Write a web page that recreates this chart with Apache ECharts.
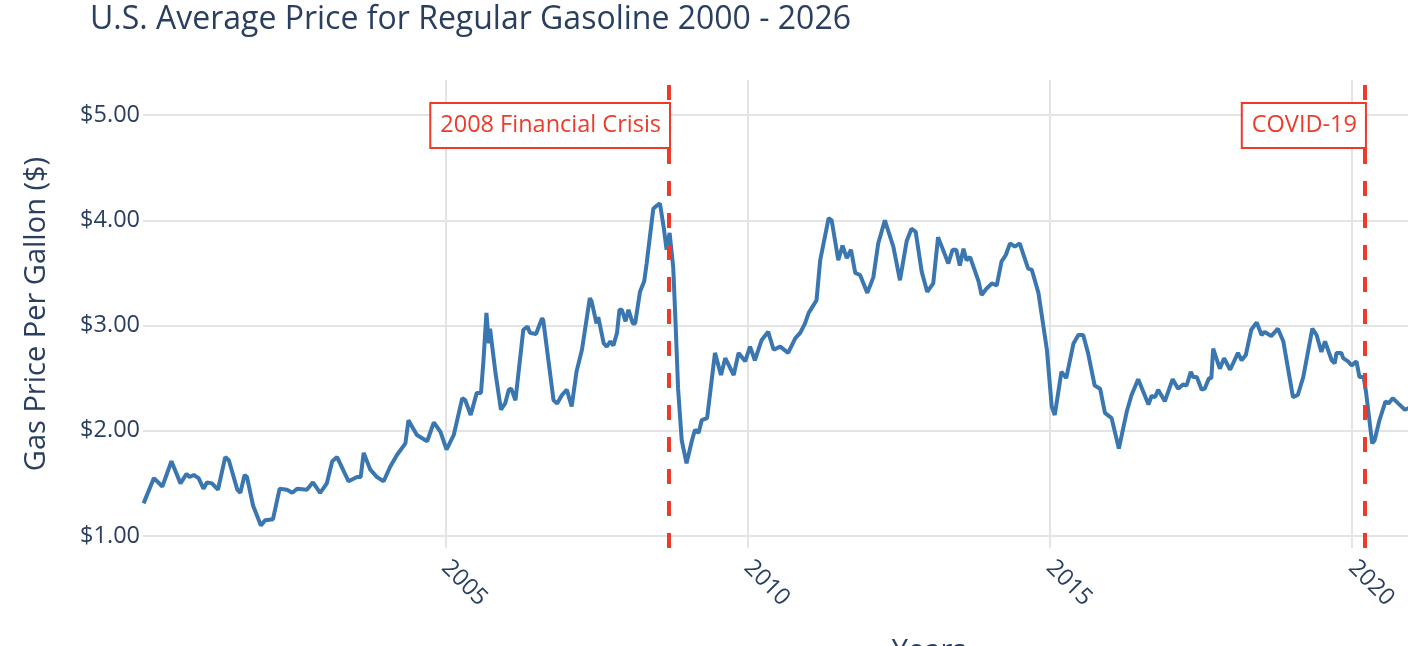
<!DOCTYPE html>
<html>
<head>
<meta charset="utf-8">
<script src="https://cdn.jsdelivr.net/npm/echarts@6/dist/echarts.min.js"></script>
<style>
html,body{margin:0;padding:0;background:#fff;overflow:hidden;}
#chart{width:1408px;height:646px;}
</style>
</head>
<body>
<div id="chart"></div>
<script>
// Decimal-year positions and prices
const years = [
2000.01,2000.18,2000.32,2000.47,2000.62,2000.72,2000.77,2000.84,2000.92,2001.00,
2001.06,2001.14,2001.24,2001.36,2001.42,2001.56,2001.61,2001.68,2001.72,2001.82,
2001.95,2002.02,2002.15,2002.26,2002.38,2002.47,2002.55,2002.71,2002.81,2002.93,
2003.04,2003.13,2003.21,2003.40,2003.54,2003.60,2003.65,2003.76,2003.87,2003.98,
2004.09,2004.20,2004.34,2004.39,2004.53,2004.70,2004.81,2004.92,2005.02,2005.14,
2005.28,2005.33,2005.42,2005.52,2005.59,2005.63,2005.68,2005.72,2005.74,2005.83,
2005.92,2005.99,2006.05,2006.09,2006.16,2006.29,2006.36,2006.40,2006.50,2006.60,
2006.62,2006.79,2006.85,2006.93,2007.01,2007.09,2007.17,2007.26,2007.39,2007.42,
2007.50,2007.53,2007.62,2007.67,2007.73,2007.78,2007.84,2007.88,2007.92,2007.98,
2008.03,2008.10,2008.14,2008.22,2008.25,2008.29,2008.33,2008.44,2008.50,2008.55,
2008.61,2008.66,2008.71,2008.77,2008.81,2008.85,2008.91,2008.99,2009.08,2009.13,
2009.19,2009.24,2009.33,2009.46,2009.56,2009.63,2009.77,2009.85,2009.96,2010.04,
2010.12,2010.23,2010.34,2010.43,2010.54,2010.67,2010.79,2010.87,2010.95,2011.01,
2011.14,2011.20,2011.34,2011.39,2011.50,2011.57,2011.64,2011.71,2011.78,2011.86,
2011.98,2012.08,2012.16,2012.27,2012.41,2012.52,2012.63,2012.71,2012.78,2012.88,
2012.97,2013.07,2013.15,2013.32,2013.39,2013.45,2013.51,2013.57,2013.62,2013.68,
2013.82,2013.87,2013.95,2014.04,2014.12,2014.20,2014.27,2014.34,2014.42,2014.50,
2014.64,2014.70,2014.81,2014.95,2015.03,2015.08,2015.19,2015.27,2015.39,2015.47,
2015.55,2015.63,2015.74,2015.83,2015.91,2016.02,2016.14,2016.27,2016.35,2016.46,
2016.63,2016.68,2016.74,2016.79,2016.90,2017.03,2017.12,2017.20,2017.26,2017.33,
2017.37,2017.43,2017.51,2017.56,2017.63,2017.67,2017.70,2017.81,2017.88,2017.98,
2018.11,2018.17,2018.24,2018.33,2018.42,2018.50,2018.55,2018.66,2018.77,2018.86,
2019.02,2019.10,2019.19,2019.34,2019.41,2019.49,2019.55,2019.66,2019.71,2019.74,
2019.82,2019.85,2019.93,2019.99,2020.07,2020.12,2020.19,2020.23,2020.33,2020.37,
2020.45,2020.55,2020.60,2020.67,2020.76,2020.87,2020.95
];
const prices = [
1.31,1.55,1.47,1.71,1.50,1.59,1.56,1.58,1.55,1.45,
1.51,1.50,1.44,1.75,1.72,1.44,1.41,1.58,1.56,1.29,
1.10,1.15,1.16,1.45,1.44,1.41,1.45,1.44,1.51,1.41,
1.50,1.71,1.75,1.52,1.56,1.56,1.79,1.63,1.56,1.52,
1.66,1.77,1.88,2.10,1.96,1.90,2.08,1.99,1.82,1.96,
2.31,2.29,2.15,2.36,2.36,2.66,3.12,2.83,2.97,2.55,
2.20,2.26,2.39,2.40,2.29,2.96,2.99,2.93,2.92,3.07,
3.05,2.29,2.26,2.34,2.39,2.23,2.56,2.77,3.26,3.23,
3.02,3.08,2.83,2.80,2.85,2.81,2.93,3.15,3.15,3.04,
3.15,3.02,3.02,3.32,3.32,3.42,3.59,4.11,4.14,4.16,
3.94,3.72,3.88,3.55,3.00,2.40,1.91,1.69,1.91,2.01,
1.98,2.10,2.12,2.74,2.53,2.69,2.53,2.74,2.66,2.80,
2.67,2.86,2.94,2.77,2.80,2.74,2.88,2.93,3.02,3.12,
3.24,3.62,4.02,4.00,3.62,3.76,3.64,3.72,3.50,3.48,
3.31,3.46,3.78,4.00,3.75,3.43,3.80,3.92,3.89,3.51,
3.32,3.40,3.84,3.59,3.72,3.72,3.57,3.73,3.62,3.65,
3.42,3.29,3.35,3.40,3.38,3.61,3.67,3.78,3.75,3.78,
3.54,3.53,3.31,2.77,2.23,2.15,2.56,2.50,2.83,2.91,
2.91,2.74,2.43,2.40,2.17,2.12,1.83,2.18,2.34,2.49,
2.25,2.33,2.32,2.39,2.28,2.49,2.40,2.44,2.43,2.56,
2.51,2.51,2.39,2.40,2.50,2.50,2.78,2.59,2.69,2.58,
2.74,2.67,2.72,2.96,3.03,2.91,2.94,2.90,2.97,2.85,
2.32,2.34,2.51,2.97,2.91,2.75,2.85,2.67,2.64,2.74,
2.74,2.69,2.66,2.62,2.66,2.51,2.51,2.36,1.88,1.91,
2.10,2.28,2.26,2.31,2.26,2.20,2.22
];
const yTicks = [1, 2, 3, 4, 5];
const xTicks = [2005, 2010, 2015, 2020, 2025];
const eventNames = ['2008 Financial Crisis', 'COVID-19'];
const eventYears = [2008.70, 2020.21];
const annotationPrice = 4.9;
const xRange = [2000, 2026];
const yRange = [0.886, 5.333];

const textColor = '#2a3f5f';
const red = '#ee3a2a';
const font = 'Open Sans';

const chart = echarts.init(document.getElementById('chart'));
chart.setOption({
  animation: false,
  backgroundColor: '#fff',
  title: {
    text: 'U.S. Average Price for Regular Gasoline 2000 - 2026',
    left: 85, top: -1,
    textStyle: {fontFamily: font, fontSize: 32, fontWeight: 'normal', color: textColor}
  },
  grid: {left: 143, top: 80, bottom: 98, width: 1572, outerBoundsMode: 'none', containLabel: false},
  xAxis: {
    type: 'value', min: xRange[0], max: xRange[1],
    name: 'Years', nameLocation: 'middle', nameGap: 89,
    nameTextStyle: {fontFamily: font, fontSize: 29, color: textColor},
    axisLine: {show: false},
    axisTick: {show: false, customValues: xTicks},
    axisLabel: {customValues: xTicks, rotate: -45, margin: 16, fontFamily: font, fontSize: 23.5, color: textColor,
      formatter: v => String(v)},
    splitLine: {show: true, lineStyle: {color: '#e4e4e4', width: 2}}
  },
  yAxis: {
    type: 'value', min: yRange[0], max: yRange[1],
    name: 'Gas Price Per Gallon ($)', nameLocation: 'middle', nameGap: 92,
    nameTextStyle: {fontFamily: font, fontSize: 29, color: textColor},
    axisLine: {show: false},
    axisTick: {show: false, customValues: yTicks},
    axisLabel: {customValues: yTicks, margin: 3, fontFamily: font, fontSize: 23.5, color: textColor,
      formatter: v => '$' + Number(v).toFixed(2)},
    splitLine: {show: true, lineStyle: {color: '#e4e4e4', width: 2}}
  },
  series: [{
    type: 'line',
    data: years.map((y, i) => [y, prices[i]]),
    showSymbol: false,
    lineStyle: {width: 4, color: '#3a76af'},
    itemStyle: {color: '#3a76af'},
    markLine: {
      silent: true, symbol: 'none',
      lineStyle: {type: [15, 17], width: 4, color: red},
      label: {show: false},
      data: eventYears.map(x => ({xAxis: x}))
    },
    markPoint: {
      silent: true, symbol: 'rect', symbolSize: 0,
      label: {
        show: true, position: 'left', distance: 0,
        fontFamily: font, fontSize: 23.5, color: red,
        backgroundColor: '#fff', borderColor: red, borderWidth: 2,
        padding: [8, 8, 7, 9], lineHeight: 28,
        formatter: p => p.name
      },
      data: eventYears.map((x, i) => ({name: eventNames[i], coord: [x, annotationPrice]}))
    }
  }]
});
</script>
</body>
</html>
